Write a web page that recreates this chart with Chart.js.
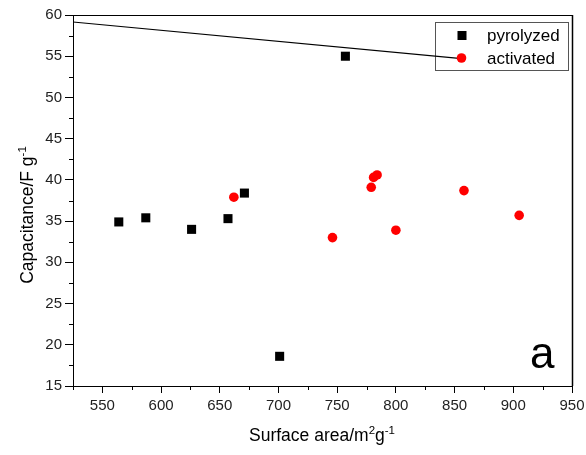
<!DOCTYPE html>
<html>
<head>
<meta charset="utf-8">
<script src="https://cdn.jsdelivr.net/npm/chart.js@4.4.1/dist/chart.umd.min.js"></script>
<style>
  html, body { margin: 0; padding: 0; background: #fff; }
  #wrap { width: 586px; height: 455px; }
</style>
</head>
<body>
<div id="wrap"><canvas id="myChart" width="586" height="455"></canvas></div>
<script>
// data
const pyroArea = [564, 587, 626, 657, 671, 701, 757];
const pyroCap = [34.9, 35.4, 34.0, 35.3, 38.4, 18.6, 55.0];
const actArea = [662, 746, 779, 781, 784, 800, 858, 905];
const actCap = [37.9, 33.0, 39.1, 40.3, 40.6, 33.9, 38.7, 35.7];
const lineArea = [525, 856];
const lineCap = [59.15, 54.7];
const xTicks = [550, 600, 650, 700, 750, 800, 850, 900, 950];
const yTicks = [15, 20, 25, 30, 35, 40, 45, 50, 55, 60];
const seriesNames = ["pyrolyzed", "activated"];

const FONT = "'Liberation Sans', Arial, sans-serif";

const toPts = (xs, ys) => xs.map((x, i) => ({ x: x, y: ys[i] }));

function drawParts(ctx, parts, cx, baseY) {
  let total = 0;
  parts.forEach((p) => {
    ctx.font = p[1] + "px " + FONT;
    total += ctx.measureText(p[0]).width;
  });
  let x = cx - total / 2;
  ctx.textAlign = "left";
  parts.forEach((p) => {
    ctx.font = p[1] + "px " + FONT;
    ctx.fillText(p[0], x, baseY + p[2]);
    x += ctx.measureText(p[0]).width;
  });
}

// legend box goes under the line, which runs into it in the original
const legendBox = {
  id: "legendBox",
  beforeDatasetsDraw(chart) {
    const ctx = chart.ctx;
    ctx.save();
    ctx.fillStyle = "#fff";
    ctx.fillRect(435.5, 22.5, 133, 48);
    ctx.strokeStyle = "#555";
    ctx.lineWidth = 1;
    ctx.strokeRect(435.5, 22.5, 133, 48);
    ctx.restore();
  },
};

// frame, minor ticks, titles with superscripts, legend entries and panel letter
const extras = {
  id: "extras",
  afterDraw(chart) {
    const ctx = chart.ctx;
    const a = chart.chartArea;
    const xs = chart.scales.x;
    const ys = chart.scales.y;
    ctx.save();
    ctx.strokeStyle = "#000";
    ctx.lineWidth = 1;
    // top frame
    ctx.beginPath();
    ctx.moveTo(a.left, a.top + 0.5);
    ctx.lineTo(a.right + 0.5, a.top + 0.5);
    ctx.stroke();
    // right frame
    ctx.lineWidth = 1.5;
    ctx.beginPath();
    ctx.moveTo(a.right + 0.5, a.top);
    ctx.lineTo(a.right + 0.5, a.bottom);
    ctx.stroke();
    ctx.lineWidth = 1;

    // minor ticks
    ctx.beginPath();
    for (let v = 525; v < 950; v += 50) {
      const px = Math.round(xs.getPixelForValue(v)) + 0.5;
      ctx.moveTo(px, a.bottom);
      ctx.lineTo(px, a.bottom + 4);
    }
    for (let v = 17.5; v < 60; v += 5) {
      const py = Math.round(ys.getPixelForValue(v)) + 0.5;
      ctx.moveTo(a.left, py);
      ctx.lineTo(a.left - 4, py);
    }
    ctx.stroke();

    ctx.fillStyle = "#000";
    ctx.textBaseline = "alphabetic";

    // x title
    drawParts(ctx, [["Surface area/m", 17.5, 0], ["2", 11.5, -7], ["g", 17.5, 0], ["-1", 11.5, -7]], 322, 441);

    // y title (rotated)
    ctx.save();
    ctx.translate(33, 215);
    ctx.rotate(-Math.PI / 2);
    drawParts(ctx, [["Capacitance/F g", 17.5, 0], ["-1", 11.5, -7]], 0, 0);
    ctx.restore();

    // legend entries
    ctx.fillStyle = "#000";
    ctx.fillRect(457.5, 31, 9, 9);
    ctx.fillStyle = "#ff0000";
    ctx.beginPath();
    ctx.arc(461.5, 58, 4.8, 0, Math.PI * 2);
    ctx.fill();
    ctx.fillStyle = "#000";
    ctx.font = "17px " + FONT;
    ctx.textAlign = "left";
    ctx.fillText(seriesNames[0], 487, 41);
    ctx.fillText(seriesNames[1], 487, 64);

    // panel letter
    ctx.font = "44px " + FONT;
    ctx.fillText("a", 530, 368);
    ctx.restore();
  },
};

const ctx = document.getElementById("myChart").getContext("2d");

new Chart(ctx, {
  type: "scatter",
  data: {
    datasets: [
      {
        type: "line",
        label: "line",
        data: toPts(lineArea, lineCap),
        borderColor: "#000",
        borderWidth: 1.2,
        pointRadius: 0,
        fill: false,
        order: 3,
      },
      {
        label: seriesNames[0],
        data: toPts(pyroArea, pyroCap),
        pointStyle: "rect",
        pointRadius: 6.4,
        backgroundColor: "#000",
        borderColor: "#000",
        borderWidth: 0,
        order: 2,
      },
      {
        label: seriesNames[1],
        data: toPts(actArea, actCap),
        pointStyle: "circle",
        pointRadius: 4.8,
        backgroundColor: "#ff0000",
        borderColor: "#ff0000",
        borderWidth: 0,
        order: 1,
      },
    ],
  },
  options: {
    responsive: false,
    animation: false,
    layout: { padding: { left: 0, right: 14, top: 15, bottom: 0 } },
    plugins: { legend: { display: false }, tooltip: { enabled: false } },
    scales: {
      x: {
        type: "linear",
        min: 525,
        max: 950,
        afterBuildTicks: (s) => { s.ticks = xTicks.map((v) => ({ value: v })); },
        afterFit: (s) => {
          s.height = 69;
          s.paddingRight = 0;
          s.paddingLeft = 0;
        },
        grid: { drawOnChartArea: false, drawTicks: true, tickLength: 7, color: "#000" },
        border: { display: true, color: "#000", width: 1 },
        ticks: { color: "#222", padding: 4, maxRotation: 0, font: { family: FONT, size: 15 } },
      },
      y: {
        type: "linear",
        min: 15,
        max: 60,
        afterBuildTicks: (s) => { s.ticks = yTicks.map((v) => ({ value: v })); },
        afterFit: (s) => {
          s.width = 73;
          s.paddingTop = 0;
          s.paddingBottom = 0;
        },
        grid: { drawOnChartArea: false, drawTicks: true, tickLength: 8, color: "#000" },
        border: { display: true, color: "#000", width: 1 },
        ticks: { color: "#222", padding: 3, font: { family: FONT, size: 15 } },
      },
    },
  },
  plugins: [legendBox, extras],
});
</script>
</body>
</html>
